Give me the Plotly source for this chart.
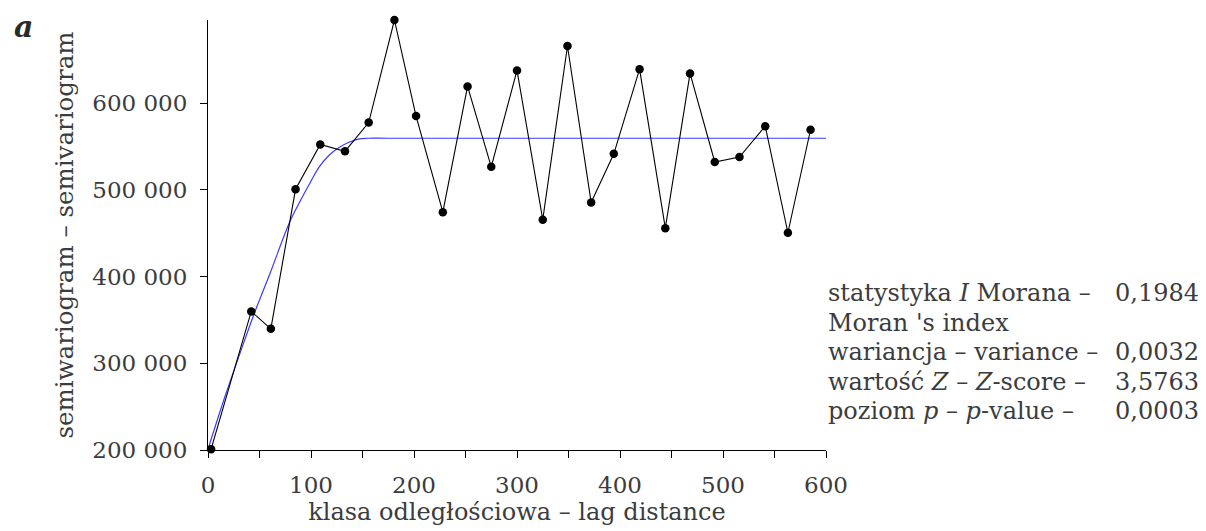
import plotly.graph_objects as go

lag_distance = [3, 42, 61, 85, 109, 133, 156, 181, 202, 228, 252, 275, 300, 325, 349,
                372, 394, 419, 444, 468, 492, 516, 541, 563, 585]
semivariance = [201000, 359800, 339800, 500700, 552500, 544600, 577700, 696000, 585200,
                474300, 619400, 526600, 637800, 465700, 666000, 485600, 541600, 639300,
                455900, 634400, 532200, 537900, 573500, 450600, 569400]

# Fitted model curve
model_lag = [0, 16, 30, 45, 60, 79, 89, 99, 108, 118, 128, 137, 147, 155, 175, 600]
model_value = [201000, 260000, 308000, 357800, 403000, 462000, 486000, 508000, 526500,
               540500, 549500, 555000, 558800, 559600, 559600, 559600]

y_tickvals = [200000, 300000, 400000, 500000, 600000]
y_ticktext = ["200 000", "300 000", "400 000", "500 000", "600 000"]
x_tickvals = [0, 100, 200, 300, 400, 500, 600]

stat_labels = ["statystyka <i>I</i> Morana –", "Moran 's index", "wariancja – variance –",
               "wartość <i>Z</i> – <i>Z</i>-score –", "poziom <i>p</i> – <i>p</i>-value –"]
stat_values = ["0,1984", "", "0,0032", "3,5763", "0,0003"]

FONT = "DejaVu Serif"
GRAY = "#3c3c3c"

fig = go.Figure()
fig.add_trace(go.Scatter(x=model_lag, y=model_value, mode="lines",
                         line=dict(color="#3a3aff", width=1.2, shape="spline", smoothing=1.0),
                         cliponaxis=False, hoverinfo="skip"))
fig.add_trace(go.Scatter(x=lag_distance, y=semivariance, mode="lines+markers",
                         line=dict(color="black", width=1.1),
                         marker=dict(color="black", size=8.5),
                         cliponaxis=False))

# page has an 8px body margin, so the figure is shifted by -8px
fig.update_layout(
    width=1198, height=523,
    margin=dict(l=200, r=380, t=12, b=71),
    plot_bgcolor="white", paper_bgcolor="white",
    showlegend=False,
    font=dict(family=FONT, size=22, color=GRAY),
)
fig.update_xaxes(range=[0, 600], tickvals=x_tickvals, showgrid=False, zeroline=False,
                 showline=True, linecolor="black", linewidth=1,
                 ticks="outside", ticklen=7, tickcolor="black", tickwidth=1,
                 ticklabelstandoff=7,
                 minor=dict(dtick=50, tick0=0, ticks="outside", ticklen=7,
                            tickcolor="black", tickwidth=1, showgrid=False),
                 tickfont=dict(family=FONT, size=23, color=GRAY),
                 title=dict(text="klasa odległościowa – lag distance", standoff=5,
                            font=dict(family=FONT, size=24, color=GRAY)))
fig.update_yaxes(range=[200000, 696000], tickvals=y_tickvals, ticktext=y_ticktext,
                 showgrid=False, zeroline=False,
                 showline=True, linecolor="black", linewidth=1,
                 ticks="outside", ticklen=7, tickcolor="black", tickwidth=1,
                 ticklabelstandoff=8,
                 tickfont=dict(family=FONT, size=23, color=GRAY),
                 title=dict(text="semiwariogram – semivariogram", standoff=11,
                            font=dict(family=FONT, size=24.5, color=GRAY)))

line_y = [0.365, 0.2964, 0.2278, 0.1592, 0.0906]
for lab, val, yy in zip(stat_labels, stat_values, line_y):
    fig.add_annotation(text=lab, xref="paper", yref="paper", x=1.0, y=yy,
                       xanchor="left", yanchor="middle", showarrow=False,
                       font=dict(family=FONT, size=24, color=GRAY))
    if val:
        fig.add_annotation(text=val, xref="paper", yref="paper", x=1.607, y=yy,
                           xanchor="right", yanchor="middle", showarrow=False,
                           font=dict(family=FONT, size=24, color=GRAY))

fig.add_annotation(text="<b><i>a</i></b>", xref="paper", yref="paper", x=-0.298, y=0.9855,
                   xanchor="center", yanchor="middle", showarrow=False,
                   font=dict(family=FONT, size=30, color="#2a2a2a"))

fig.write_html("out.html")
